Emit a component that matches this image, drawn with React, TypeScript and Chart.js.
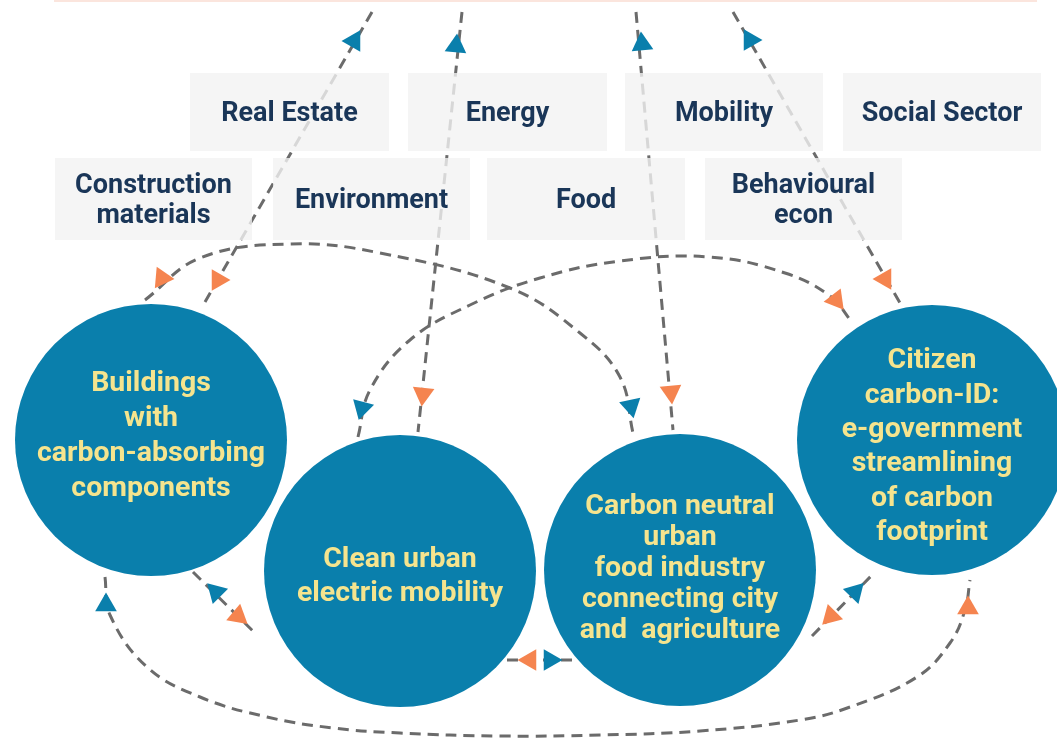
import React, { useEffect, useRef } from 'react';
import { Chart, registerables } from 'chart.js';

Chart.register(...registerables);

const W = 1057;
const H = 738;

// Sector boxes
const boxLabels: string[][] = [
  ['Real Estate'],
  ['Energy'],
  ['Mobility'],
  ['Social Sector'],
  ['Construction', 'materials'],
  ['Environment'],
  ['Food'],
  ['Behavioural', 'econ'],
];
const boxLeft = [190, 408, 625, 843, 55, 273, 487, 705];
const boxRight = [389, 607, 823, 1041, 252, 470, 685, 902];
const boxTop = [73, 73, 73, 73, 158, 158, 158, 158];
const boxBottom = [151, 151, 151, 151, 240, 240, 240, 240];

// Project circles
const circleLabels: string[][] = [
  ['Buildings', 'with', 'carbon-absorbing', 'components'],
  ['Clean urban', 'electric mobility'],
  ['Carbon neutral', 'urban', 'food industry', 'connecting city', 'and  agriculture'],
  ['Citizen', 'carbon-ID:', 'e-government', 'streamlining', 'of carbon', 'footprint'],
];
const circleX = [151, 400, 680, 932];
const circleY = [440, 571, 570, 440];
const circleR = [136, 136, 136, 135];
const circleTextY = [436, 577, 569, 447];
const circleLineGap = [35, 34, 31, 34.4];

// Dashed connection paths
const topLine = [{ x: 54, y: 1 }, { x: 1037, y: 1 }];
const pathRealEstate = [{ x: 372, y: 12 }, { x: 205, y: 302 }];
const pathEnergy = [{ x: 462, y: 12 }, { x: 418, y: 432 }];
const pathMobility = [{ x: 636, y: 12 }, { x: 673, y: 430 }];
const pathSocial = [{ x: 733, y: 12 }, { x: 900, y: 303 }];
const curveBuildingsFood = [
  { x: 145, y: 300 }, { x: 200, y: 258 }, { x: 290, y: 244 }, { x: 380, y: 253 },
  { x: 510, y: 288 }, { x: 580, y: 333 }, { x: 620, y: 377 }, { x: 633, y: 433 },
];
const curveMobilityCitizen = [
  { x: 358, y: 437 }, { x: 370, y: 390 }, { x: 410, y: 340 }, { x: 470, y: 305 },
  { x: 540, y: 278 }, { x: 620, y: 261 }, { x: 710, y: 257 }, { x: 785, y: 273 },
  { x: 830, y: 296 }, { x: 852, y: 322 },
];
const curveBottom = [
  { x: 105, y: 577 }, { x: 110, y: 615 }, { x: 147, y: 667 }, { x: 200, y: 697 },
  { x: 267, y: 717 }, { x: 333, y: 728 }, { x: 400, y: 733 }, { x: 500, y: 736 },
  { x: 600, y: 735 }, { x: 700, y: 731 }, { x: 800, y: 720 }, { x: 850, y: 707 },
  { x: 917, y: 677 }, { x: 950, y: 643 }, { x: 965, y: 610 }, { x: 970, y: 580 },
];
const linkBuildingsMobility = [{ x: 193, y: 572 }, { x: 257, y: 635 }];
const linkMobilityFood = [{ x: 507, y: 660 }, { x: 573, y: 660 }];
const linkFoodCitizen = [{ x: 812, y: 636 }, { x: 875, y: 572 }];

// Arrowheads
const arrowX = [354, 456, 642, 750, 162, 218, 362, 423, 631, 671, 836, 885, 106, 216, 238, 530, 550, 831, 855, 968];
const arrowY = [41, 46, 44, 40, 278, 280, 408, 394, 406, 392, 300, 279, 605, 592, 616, 660, 660, 616, 592, 608];
const arrowKind = ['b', 'b', 'b', 'b', 'o', 'o', 'b', 'o', 'b', 'o', 'o', 'o', 'b', 'b', 'o', 'o', 'b', 'o', 'b', 'o'];
const arrowRotation = [30, 5, -5, -30, 95, 90, 195, 186, 168, 175, 262, 270, 0, -45, 130, 270, 90, -15, 44, 0];

const BLUE = '#0a7fac';
const ORANGE = '#f5844f';
const DASH = '#6b6b6b';
const BOX_FILL = 'rgba(242,242,242,0.8)';
const BOX_TEXT = '#1a3658';
const CIRCLE_TEXT = '#f5e48e';
const FONT = '"Roboto", "Noto Sans", sans-serif';

const diagramPlugin = {
  id: 'diagram',
  beforeDatasetsDraw(chart: any) {
    chart.$overlayDone = false;
  },
  beforeDatasetDraw(chart: any, args: any) {
    const ds = chart.data.datasets[args.index];
    if (ds.label !== 'arrows' || chart.$overlayDone) return;
    chart.$overlayDone = true;
    const ctx = chart.ctx as CanvasRenderingContext2D;
    const xs = chart.scales.x;
    const ys = chart.scales.y;
    ctx.save();
    // boxes
    boxLabels.forEach((lines, i) => {
      const l = xs.getPixelForValue(boxLeft[i]);
      const r = xs.getPixelForValue(boxRight[i]);
      const t = ys.getPixelForValue(boxTop[i]);
      const b = ys.getPixelForValue(boxBottom[i]);
      ctx.fillStyle = BOX_FILL;
      ctx.fillRect(l, t, r - l, b - t);
      ctx.fillStyle = BOX_TEXT;
      ctx.font = `bold 27px ${FONT}`;
      ctx.textAlign = 'center';
      ctx.textBaseline = 'middle';
      const cx = (l + r) / 2;
      const cy = (t + b) / 2 + 2;
      const gap = 30;
      lines.forEach((s, j) => {
        ctx.fillText(s, cx, cy + (j - (lines.length - 1) / 2) * gap);
      });
    });
    // circles
    circleLabels.forEach((lines, i) => {
      const cx = xs.getPixelForValue(circleX[i]);
      const cy = ys.getPixelForValue(circleY[i]);
      const rad = xs.getPixelForValue(circleX[i] + circleR[i]) - cx;
      ctx.beginPath();
      ctx.arc(cx, cy, rad, 0, Math.PI * 2);
      ctx.fillStyle = BLUE;
      ctx.fill();
      ctx.fillStyle = CIRCLE_TEXT;
      ctx.font = `bold 28.5px ${FONT}`;
      ctx.textAlign = 'center';
      ctx.textBaseline = 'middle';
      const ty = ys.getPixelForValue(circleTextY[i]);
      lines.forEach((s, j) => {
        ctx.fillText(s, cx, ty + (j - (lines.length - 1) / 2) * circleLineGap[i]);
      });
    });
    ctx.restore();
  },
};

function dashed(label: string, data: { x: number; y: number }[], curved: boolean) {
  return {
    label,
    data,
    showLine: true,
    borderColor: DASH,
    borderWidth: 3,
    borderDash: [11, 7],
    pointRadius: 0,
    tension: curved ? 0.4 : 0,
    fill: false,
    order: 2,
  };
}

export default function App() {
  const ref = useRef<HTMLCanvasElement | null>(null);
  useEffect(() => {
    document.body.style.margin = '0';
    if (!ref.current) return;
    const arrowData = arrowX.map((x, i) => ({ x, y: arrowY[i] }));
    const chart = new Chart(ref.current, {
      type: 'scatter',
      data: {
        datasets: [
          {
            label: 'top',
            data: topLine,
            showLine: true,
            borderColor: '#fbe5dd',
            borderWidth: 2,
            pointRadius: 0,
            order: 3,
          } as any,
          dashed('realEstate', pathRealEstate, false),
          dashed('energy', pathEnergy, false),
          dashed('mobility', pathMobility, false),
          dashed('social', pathSocial, false),
          dashed('buildingsFood', curveBuildingsFood, true),
          dashed('mobilityCitizen', curveMobilityCitizen, true),
          dashed('bottom', curveBottom, true),
          dashed('l1', linkBuildingsMobility, false),
          dashed('l2', linkMobilityFood, false),
          dashed('l3', linkFoodCitizen, false),
          {
            label: 'arrows',
            data: arrowData,
            showLine: false,
            pointStyle: 'triangle',
            pointRadius: 12.5,
            pointBorderWidth: 0,
            pointBackgroundColor: arrowKind.map((k) => (k === 'b' ? BLUE : ORANGE)),
            pointBorderColor: 'rgba(0,0,0,0)',
            pointRotation: arrowRotation,
            order: 1,
          } as any,
        ],
      },
      options: {
        responsive: false,
        animation: false,
        devicePixelRatio: 1,
        events: [],
        layout: { padding: 0, autoPadding: false },
        plugins: { legend: { display: false }, tooltip: { enabled: false } },
        scales: {
          x: { type: 'linear', min: 0, max: W, display: false },
          y: { type: 'linear', min: 0, max: H, reverse: true, display: false },
        },
      },
      plugins: [diagramPlugin],
    });
    return () => chart.destroy();
  }, []);
  return <canvas ref={ref} width={W} height={H} style={{ display: 'block' }} />;
}
